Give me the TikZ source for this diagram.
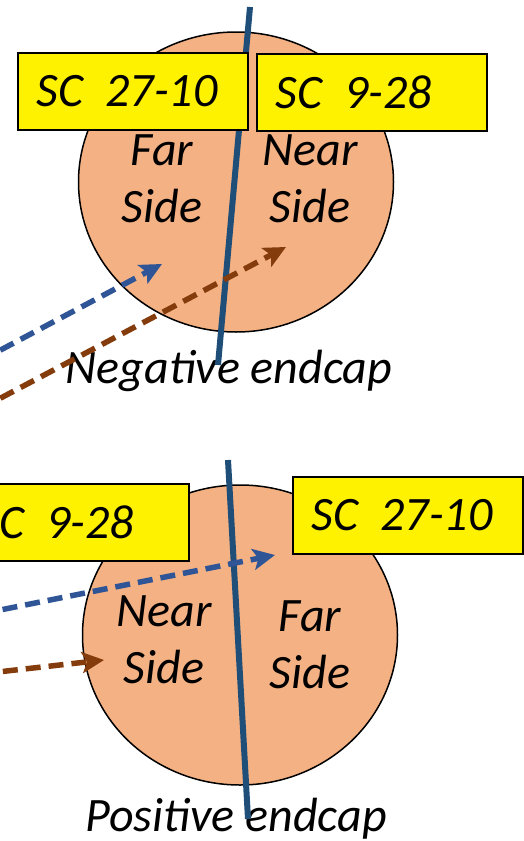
\documentclass[tikz,border=0pt]{standalone}
\usepackage{fontspec}
\setmainfont{Carlito}
\usepackage{tikz}
\usetikzlibrary{shapes.geometric, arrows.meta, positioning}
\definecolor{capcolor}{RGB}{244,177,131}
\definecolor{splitcolor}{RGB}{31,78,121}
\definecolor{bluearrow}{RGB}{47,85,151}
\definecolor{brownarrow}{RGB}{132,60,12}
\newcommand{\scgap}{\hspace{22pt}}

\begin{document}
\begin{tikzpicture}[
    x=1pt, y=-1pt,
    endcap/.style={ellipse, draw, line width=1.5pt, fill=capcolor, minimum width=315pt, minimum height=300pt, inner sep=0pt},
    sidelabel/.style={align=center, font=\fontsize{48}{57}\selectfont\itshape},
    caplabel/.style={anchor=base, font=\fontsize{48}{57}\selectfont\itshape},
    scbox/.style={draw, line width=1.5pt, fill=yellow, anchor=north west, minimum height=77pt, text width=192pt, inner xsep=19pt, align=left, font=\fontsize{48}{57}\selectfont\itshape},
    splitline/.style={draw=splitcolor, line width=6pt},
    track/.style={line width=5.5pt, dash pattern=on 15pt off 8pt, -{Stealth[length=22pt, width=21pt, inset=5pt]}}
]
\useasboundingbox (0,0) rectangle (523,841);

% negative endcap
\node[endcap] (negcap) at (236,182) {};
\node[sidelabel] (negfar) at (162,179) {Far\\Side};
\node[sidelabel] (negnear) at (310,179) {Near\\Side};
\node[caplabel] (neglabel) at (229,383) {Negative endcap};
\coordinate (negtop) at (250,7);
\coordinate (negbot) at (218,365);
\draw[splitline] (negtop) -- (negbot);
\node[scbox] (negbox1) at (17,52) {SC\scgap 27-10};
\node[scbox] (negbox2) at (256,53) {SC\scgap 9-28};

% positive endcap
\node[endcap] (poscap) at (240,635) {};
\node[sidelabel] (posnear) at (164,640) {Near\\Side};
\node[sidelabel] (posfar) at (310,645) {Far\\Side};
\node[caplabel] (poslabel) at (236,831) {Positive endcap};
\coordinate (postop) at (228,460);
\coordinate (posbot) at (248,819);
\draw[splitline] (postop) -- (posbot);
\node[scbox] (posbox1) at (-42,483) {SC\scgap 9-28};
\node[scbox] (posbox2) at (292,476) {SC\scgap 27-10};

% incoming tracks
\coordinate (negblue0) at (-20,361);
\coordinate (negblue1) at (162,264);
\coordinate (negbrown0) at (-20,409);
\coordinate (negbrown1) at (286,247);
\coordinate (posblue0) at (-20,614);
\coordinate (posblue1) at (275,555);
\coordinate (posbrown0) at (-20,674);
\coordinate (posbrown1) at (104,660);
\draw[track, bluearrow] (negblue0) -- (negblue1);
\draw[track, brownarrow] (negbrown0) -- (negbrown1);
\draw[track, bluearrow] (posblue0) -- (posblue1);
\draw[track, brownarrow] (posbrown0) -- (posbrown1);
\end{tikzpicture}
\end{document}
